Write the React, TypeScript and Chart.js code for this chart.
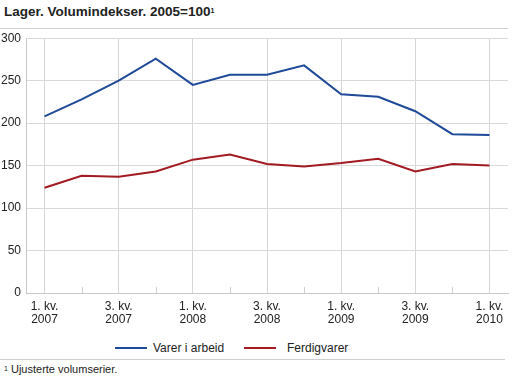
import React, { useEffect, useRef } from "react";
import { Chart, registerables } from "chart.js";

Chart.register(...registerables);

const categories = [
  "1. kv. 2007", "2. kv. 2007", "3. kv. 2007", "4. kv. 2007",
  "1. kv. 2008", "2. kv. 2008", "3. kv. 2008", "4. kv. 2008",
  "1. kv. 2009", "2. kv. 2009", "3. kv. 2009", "4. kv. 2009",
  "1. kv. 2010",
];
const varerIArbeid = [208, 228, 250, 276, 245, 257, 257, 268, 234, 231, 214, 187, 186];
const ferdigvarer = [124, 138, 137, 143, 157, 163, 152, 149, 153, 158, 143, 152, 150];
const seriesNames = ["Varer i arbeid", "Ferdigvarer"];
const seriesColors = ["#1f4a98", "#a31a23"];
const yTicks = [0, 50, 100, 150, 200, 250, 300];

const FONT = "'Liberation Sans', Arial, Helvetica, sans-serif";

const minorTicks = {
  id: "minorTicks",
  afterDatasetsDraw(chart: any) {
    const x = chart.scales.x;
    const ctx = chart.ctx;
    const bottom = chart.chartArea.bottom;
    ctx.save();
    ctx.strokeStyle = "#cfcfcf";
    ctx.lineWidth = 1;
    for (let i = 1; i < categories.length; i += 2) {
      const px = Math.round(x.getPixelForValue(i)) + 0.5;
      ctx.beginPath();
      ctx.moveTo(px, bottom - 6);
      ctx.lineTo(px, bottom);
      ctx.stroke();
    }
    ctx.restore();
  },
};

export default function App() {
  const ref = useRef<HTMLCanvasElement | null>(null);

  useEffect(() => {
    document.body.style.margin = "0";
    if (!ref.current) return;
    const chart = new Chart(ref.current, {
      type: "line",
      data: {
        labels: categories,
        datasets: [
          {
            label: seriesNames[0],
            data: varerIArbeid,
            borderColor: seriesColors[0],
            backgroundColor: seriesColors[0],
            borderWidth: 2,
            pointRadius: 0,
            tension: 0,
          },
          {
            label: seriesNames[1],
            data: ferdigvarer,
            borderColor: seriesColors[1],
            backgroundColor: seriesColors[1],
            borderWidth: 2,
            pointRadius: 0,
            tension: 0,
          },
        ],
      },
      options: {
        animation: false,
        responsive: false,
        maintainAspectRatio: false,
        layout: { padding: { left: 0, right: 4, top: 4, bottom: 0 } },
        plugins: {
          legend: { display: false },
          title: { display: false },
          tooltip: { enabled: false },
        },
        scales: {
          x: {
            type: "category",
            offset: true,
            grid: {
              offset: false,
              drawTicks: false,
              color: (c: any) => (c.index % 2 === 0 ? "#d6d6d6" : "rgba(0,0,0,0)"),
            },
            border: { color: "#c8c8c8" },
            ticks: {
              autoSkip: false,
              maxRotation: 0,
              minRotation: 0,
              padding: 7,
              color: "#222",
              font: { family: FONT, size: 12, lineHeight: 1.1 },
              callback: (_v: any, i: number) => {
                if (i % 2 !== 0) return "";
                const s = categories[i];
                const idx = s.lastIndexOf(" ");
                return [s.slice(0, idx), s.slice(idx + 1)];
              },
            },
            afterFit: (s: any) => {
              s.height = 37;
            },
          },
          y: {
            min: 0,
            max: 300,
            afterBuildTicks: (s: any) => {
              s.ticks = yTicks.map((v) => ({ value: v }));
            },
            grid: { color: "#d9d9d9", drawTicks: false },
            border: { color: "#c8c8c8" },
            ticks: {
              padding: 5,
              color: "#222",
              font: { family: FONT, size: 12 },
            },
            afterFit: (s: any) => {
              s.width = 26;
            },
          },
        },
      },
      plugins: [minorTicks],
    });
    return () => chart.destroy();
  }, []);

  return (
    <div style={{ position: "relative", width: 512, height: 377, fontFamily: FONT, color: "#222", overflow: "hidden", background: "#fff" }}>
      <div style={{ position: "absolute", left: 4, top: 4, fontSize: 13.5, fontWeight: "bold", lineHeight: "16px", whiteSpace: "nowrap" }}>
        Lager. Volumindekser. 2005=100<sup style={{ fontSize: 7, verticalAlign: "top", position: "relative", top: -1 }}>1</sup>
      </div>
      <div style={{ position: "absolute", left: 0, top: 28, width: 508, height: 1, background: "#cfcfcf" }} />
      <canvas ref={ref} width={512} height={304} style={{ position: "absolute", left: 0, top: 26, width: 512, height: 304 }} />
      <div style={{ position: "absolute", left: 0, top: 340, width: 512, height: 16, fontSize: 12, lineHeight: "16px" }}>
        {seriesNames.map((n, i) => (
          <div key={n} style={{ position: "absolute", left: i === 0 ? 115 : 244, top: 0, whiteSpace: "nowrap" }}>
            <span style={{ display: "inline-block", width: 32, height: 2, background: seriesColors[i], verticalAlign: "middle", marginRight: i === 0 ? 6 : 11, position: "relative", top: -1 }} />
            {n}
          </div>
        ))}
      </div>
      <div style={{ position: "absolute", left: 0, top: 359, width: 505, height: 1, background: "#cfcfcf" }} />
      <div style={{ position: "absolute", left: 4, top: 363, fontSize: 11, lineHeight: "13px", whiteSpace: "nowrap" }}>
        <sup style={{ fontSize: 7, verticalAlign: "top", position: "relative", top: -1 }}>1</sup> Ujusterte volumserier.
      </div>
    </div>
  );
}
